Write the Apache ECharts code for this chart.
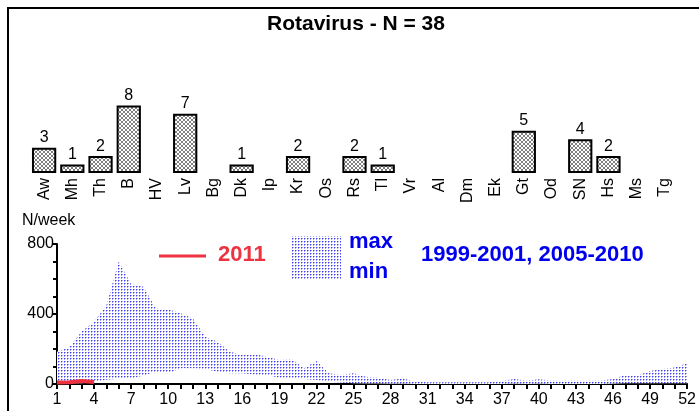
<!DOCTYPE html>
<html>
<head>
<meta charset="utf-8">
<script src="https://cdn.jsdelivr.net/npm/echarts@6/dist/echarts.min.js"></script>
<style>
  html, body { margin: 0; padding: 0; background: #fff; }
  #chart { width: 699px; height: 411px; }
</style>
</head>
<body>
<div id="chart"></div>
<script>
// bar chart: cases per region
const regions = ["Aw", "Mh", "Th", "B", "HV", "Lv", "Bg", "Dk", "Ip", "Kr", "Os", "Rs",
  "Tl", "Vr", "Al", "Dm", "Ek", "Gt", "Od", "SN", "Hs", "Ms", "Tg"];
const regionCases = [3, 1, 2, 8, 0, 7, 0, 1, 0, 2, 0, 2, 1, 0, 0, 0, 0, 5, 0, 4, 2, 0, 0];

// weekly curve
const weeks = [];
for (let i = 1; i <= 52; i++) weeks.push(String(i));
const maxPrev = [185, 210, 300, 356, 450, 700, 570, 556, 432, 427, 404, 375, 270, 242, 185, 166,
  171, 156, 137, 141, 90, 131, 61, 51, 61, 42, 36, 23, 32, 13, 10, 10, 10, 10, 10, 10,
  17, 29, 19, 27, 19, 19, 19, 19, 19, 29, 51, 48, 74, 86, 95, 118];
const minPrev = [5, 5, 5, 10, 25, 30, 32, 48, 70, 61, 90, 90, 86, 70, 61, 61,
  55, 51, 36, 36, 29, 23, 13, 8, 5, 3, 3, 2, 2, 0, 0, 0, 0, 0, 0, 0,
  0, 2, 0, 2, 0, 0, 0, 0, 0, 2, 5, 5, 5, 5, 5, 5];
const cases2011 = [8, 10, 17, 12];
const yTicks = [0, 400, 800];

// pattern tiles
function makeTile(size, paint) {
  const c = document.createElement("canvas");
  c.width = size; c.height = size;
  const ctx = c.getContext("2d");
  ctx.fillStyle = "#fff";
  ctx.fillRect(0, 0, size, size);
  paint(ctx);
  return c;
}
const hatch = makeTile(4, (ctx) => {
  ctx.fillStyle = "#808080";
  for (let i = 0; i < 4; i++) {
    ctx.fillRect(i, i, 1, 1);
    ctx.fillRect(3 - i, i, 1, 1);
  }
});
const dots = makeTile(3, (ctx) => {
  ctx.fillStyle = "#a4a4ff";
  ctx.fillRect(2, 1, 1, 1);
  ctx.fillRect(1, 2, 1, 1);
  ctx.fillStyle = "#4040f0";
  ctx.fillRect(1, 1, 1, 1);
});

const diff = maxPrev.map((v, i) => v - minPrev[i]);
const font = "Arial, 'Liberation Sans', sans-serif";

const myChart = echarts.init(document.getElementById("chart"));
myChart.setOption({
  animation: false,
  textStyle: { fontFamily: font },
  title: {
    text: "Rotavirus - N = 38",
    left: 262,
    top: 9,
    textStyle: { fontSize: 21, fontWeight: "bold", color: "#000", fontFamily: font },
  },
  grid: [
    { left: 30, right: 20, top: 88.5, bottom: 238 },
    { left: 57, right: 11, top: 244, bottom: 27 },
  ],
  xAxis: [
    {
      gridIndex: 0,
      type: "category",
      data: regions,
      axisLine: { show: false },
      axisTick: { show: false },
      axisLabel: { rotate: 90, fontSize: 16, color: "#000", margin: 5, interval: 0 },
    },
    {
      gridIndex: 1,
      type: "category",
      data: weeks,
      boundaryGap: false,
      axisLine: { lineStyle: { color: "#000", width: 2 } },
      axisTick: { interval: 0, length: 5, lineStyle: { color: "#000", width: 2 } },
      axisLabel: { interval: 2, fontSize: 16, color: "#000", margin: 8 },
    },
  ],
  yAxis: [
    { gridIndex: 0, type: "value", min: 0, max: 10, show: false },
    {
      gridIndex: 1,
      type: "value",
      min: yTicks[0],
      max: yTicks[2],
      interval: 400,
      axisLine: { show: true, lineStyle: { color: "#000", width: 2 } },
      axisTick: { show: true, length: 5, lineStyle: { color: "#000", width: 2 } },
      minorTick: { show: true, splitNumber: 4, length: 4, lineStyle: { color: "#000", width: 2 } },
      splitLine: { show: false },
      axisLabel: { fontSize: 16, color: "#000", margin: 3 },
    },
  ],
  series: [
    {
      type: "bar",
      xAxisIndex: 0,
      yAxisIndex: 0,
      data: regionCases.map((v) => (v === 0 ? null : v)),
      barCategoryGap: "14%",
      itemStyle: {
        color: { image: hatch, repeat: "repeat" },
        borderColor: "#000",
        borderWidth: 2,
      },
      label: { show: true, position: "top", distance: 2, fontSize: 16, color: "#000" },
    },
    {
      type: "line",
      xAxisIndex: 1,
      yAxisIndex: 1,
      data: minPrev,
      stack: "band",
      symbol: "none",
      lineStyle: { opacity: 0 },
      areaStyle: { opacity: 0 },
      z: 1,
    },
    {
      type: "line",
      xAxisIndex: 1,
      yAxisIndex: 1,
      data: diff,
      stack: "band",
      symbol: "none",
      lineStyle: { opacity: 0 },
      areaStyle: { color: { image: dots, repeat: "repeat" }, opacity: 1 },
      z: 1,
    },
    {
      type: "line",
      xAxisIndex: 1,
      yAxisIndex: 1,
      data: cases2011,
      symbol: "none",
      lineStyle: { color: "#ee3340", width: 4 },
      z: 3,
    },
  ],
  graphic: [
    {
      type: "polyline",
      shape: { points: [[8, 420], [8, 8], [710, 8]] },
      style: { stroke: "#000", lineWidth: 2, fill: null },
    },
    {
      type: "text",
      left: 22,
      top: 213,
      style: { text: "N/week", font: "16px " + font, fill: "#000" },
    },
    {
      type: "line",
      shape: { x1: 159, y1: 256, x2: 206, y2: 256 },
      style: { stroke: "#ee3340", lineWidth: 3 },
    },
    {
      type: "text",
      left: 218,
      top: 244,
      style: { text: "2011", font: "bold 22px " + font, fill: "#ee3340" },
    },
    {
      type: "rect",
      shape: { x: 292, y: 236, width: 49, height: 44 },
      style: { fill: { image: dots, repeat: "repeat" } },
    },
    {
      type: "text",
      left: 349,
      top: 231,
      style: { text: "max", font: "bold 22px " + font, fill: "#0000ee" },
    },
    {
      type: "text",
      left: 349,
      top: 261,
      style: { text: "min", font: "bold 22px " + font, fill: "#0000ee" },
    },
    {
      type: "text",
      left: 421,
      top: 244,
      style: { text: "1999-2001, 2005-2010", font: "bold 22px " + font, fill: "#0000ee" },
    },
  ],
});
</script>
</body>
</html>
